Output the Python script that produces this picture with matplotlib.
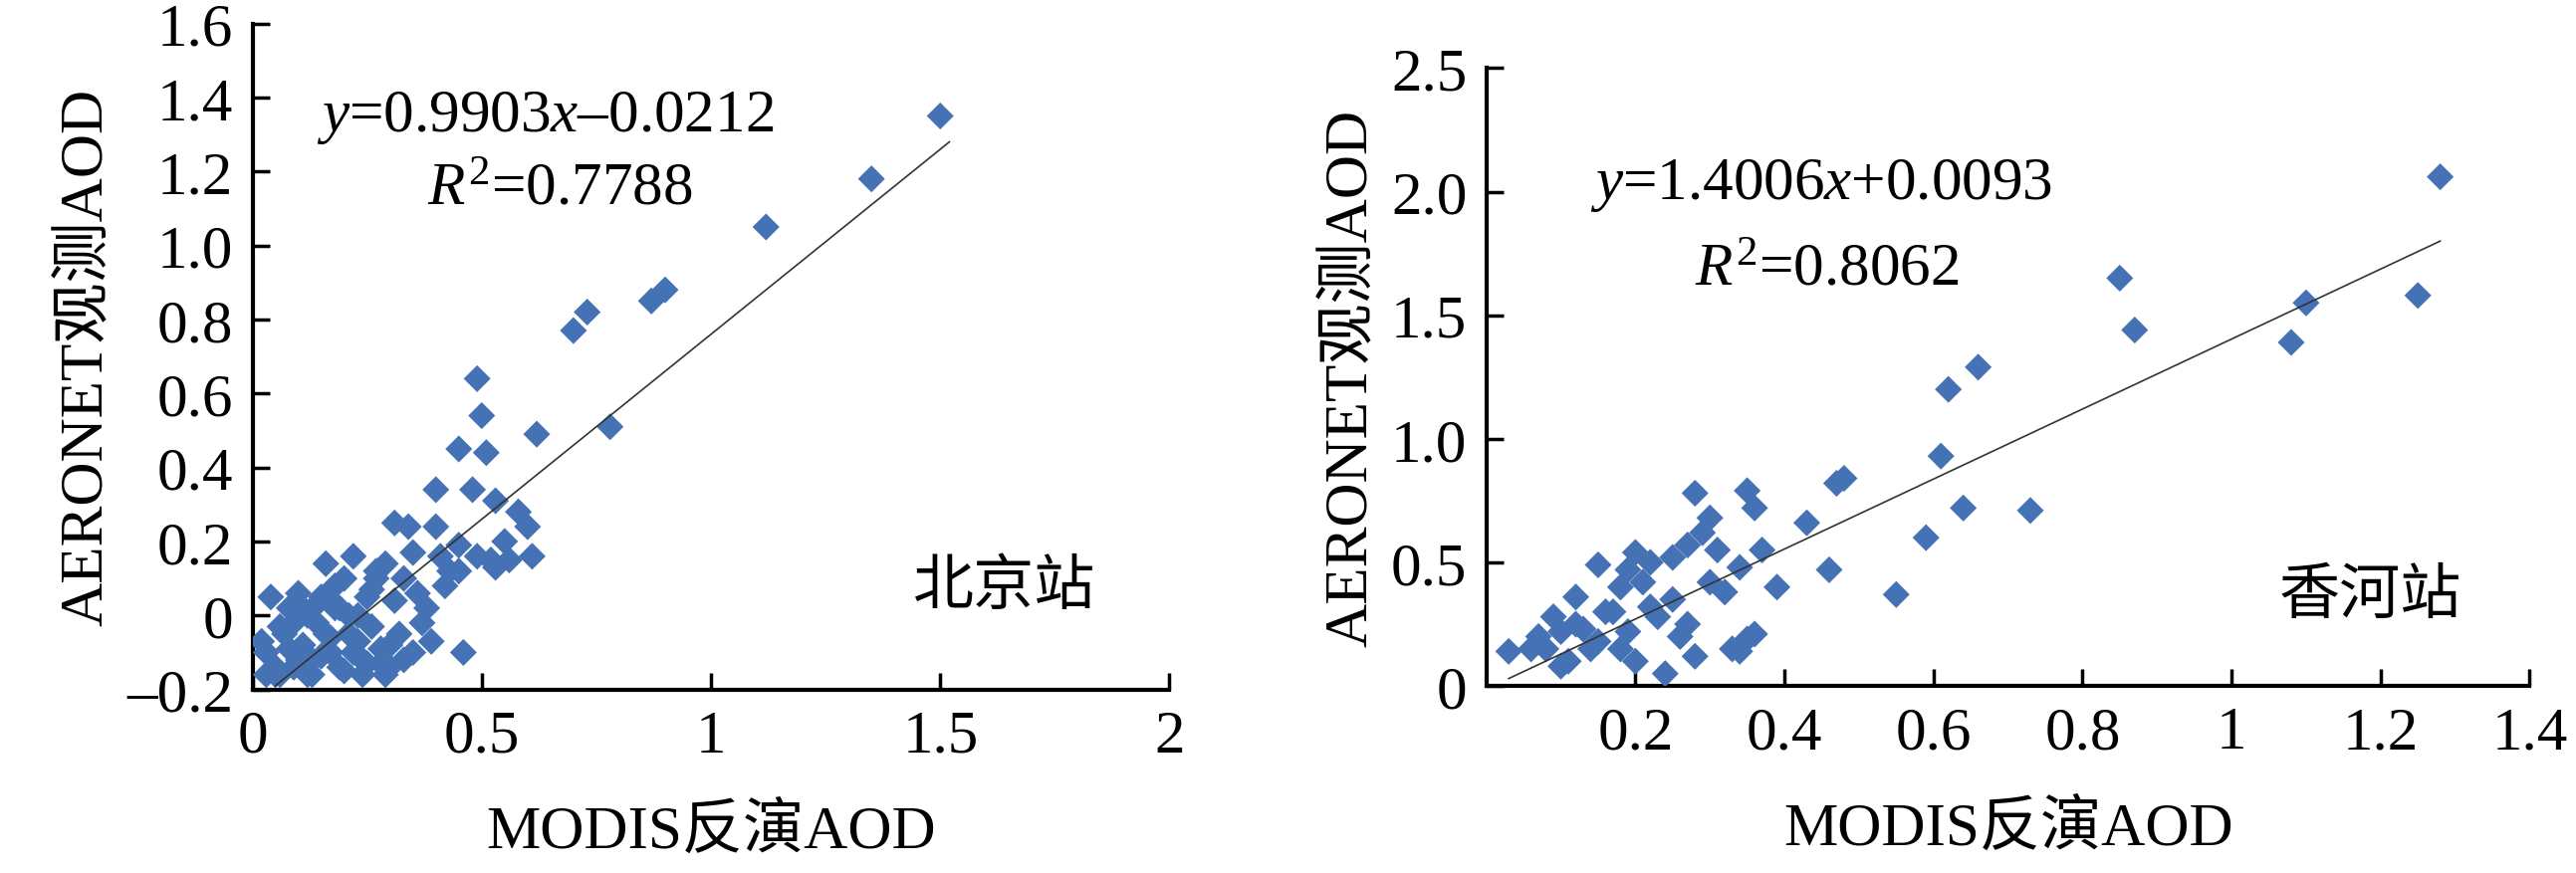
import matplotlib
matplotlib.use("Agg")
import matplotlib.pyplot as plt
import numpy as np

plt.rcParams['font.family'] = ['Liberation Serif', 'Noto Sans CJK SC', 'DejaVu Sans']
plt.rcParams['mathtext.fontset'] = 'custom'
plt.rcParams['mathtext.rm'] = 'Liberation Serif'
plt.rcParams['mathtext.it'] = 'Liberation Serif:italic'

bj_x = [1.50,1.35,1.12,0.73,0.70,0.90,0.87,0.78,0.62,0.49,0.50,0.45,0.51,0.40,0.48,0.53,0.58,0.60,0.61,
        0.31,0.34,0.40,0.45,0.49,0.53,0.56,0.41,0.45,0.33,0.29,0.36,0.42,0.38,0.27,0.22,0.25,0.20,0.18,0.15,
        0.12,0.10,0.08,0.06,0.04,0.03,0.02,0.05,0.07,0.09,0.11,0.13,0.14,0.16,0.17,0.19,0.21,0.23,0.24,0.26,
        0.28,0.30,0.32,0.35,0.37,0.39,0.43,0.18,0.20,0.22,0.24,0.26,0.28,0.30,0.15,0.12,0.10,0.08,0.06,0.25,
        0.27,0.29,0.31,0.33,0.21,0.19,0.17,0.14,0.11,0.09,0.05,0.03,0.46,0.52,0.55,0.35,0.23,0.16,0.13]
bj_y = [1.35,1.18,1.05,0.82,0.77,0.88,0.85,0.51,0.49,0.64,0.54,0.45,0.44,0.34,0.34,0.31,0.28,0.24,0.16,
        0.25,0.24,0.24,0.19,0.16,0.13,0.15,0.16,0.12,0.10,0.14,0.06,0.08,0.02,0.12,0.16,0.05,0.10,0.02,0.05,
        0.00,0.06,0.02,-0.03,0.05,-0.10,-0.07,-0.14,-0.05,-0.02,-0.08,-0.12,0.03,-0.05,-0.10,-0.14,0.00,-0.07,
        -0.12,-0.03,-0.09,-0.14,-0.05,-0.10,-0.02,-0.07,0.12,0.08,-0.15,-0.10,-0.16,0.07,-0.13,-0.08,-0.11,
        -0.16,-0.12,-0.09,-0.16,-0.13,0.10,-0.16,0.04,-0.12,-0.05,0.02,-0.06,-0.02,0.02,-0.14,-0.16,-0.16,
        -0.10,0.15,0.20,0.17,0.00,0.14,-0.16]
# trend line end points as drawn in the picture
bj_line_x = [0.05, 1.52]
bj_line_y = [-0.19, 1.28]
xh_x = [1.28,0.85,0.87,1.25,1.10,1.08,0.66,0.62,0.61,0.64,0.59,0.55,0.73,0.48,0.47,0.43,0.46,0.39,0.28,
        0.36,0.35,0.34,0.37,0.35,0.33,0.31,0.30,0.29,0.27,0.25,0.22,0.20,0.19,0.18,0.16,0.15,0.13,0.12,0.10,
        0.09,0.08,0.06,0.03,0.21,0.23,0.26,0.28,0.24,0.17,0.14,0.11,0.19,0.22,0.30,0.32,0.18,0.20,0.15,0.12,
        0.25,0.27,0.36,0.34,0.10,0.07]
xh_y = [2.06,1.65,1.44,1.58,1.55,1.39,1.29,1.20,0.93,0.72,0.60,0.37,0.71,0.84,0.82,0.66,0.47,0.40,0.78,
        0.72,0.79,0.48,0.55,0.19,0.15,0.55,0.68,0.62,0.57,0.52,0.50,0.54,0.47,0.40,0.30,0.49,0.23,0.36,0.22,
        0.28,0.15,0.15,0.14,0.42,0.28,0.20,0.12,0.05,0.30,0.15,0.10,0.22,0.32,0.42,0.38,0.15,0.10,0.18,0.25,
        0.35,0.25,0.21,0.14,0.08,0.20]
xh_line_x = [0.03, 1.28]
xh_line_y = [0.03, 1.80]

fig = plt.figure(figsize=(25.87, 8.78), dpi=100)
color = '#4472b4'
fs = 44

def setup(ax):
    for s in ['top', 'right']:
        ax.spines[s].set_visible(False)
    for s in ['left', 'bottom']:
        ax.spines[s].set_linewidth(3)
    ax.tick_params(direction='in', length=12, width=2.5, labelsize=fs, pad=14)
    ax.set_xlabel('MODIS反演AOD', fontsize=fs, labelpad=28)
    ax.set_ylabel('AERONET观测AOD', fontsize=fs, labelpad=8)

ax1 = fig.add_axes([0.098, 0.21, 0.356, 0.762])
ax1.scatter(bj_x, bj_y, marker='D', s=190, color=color, edgecolors='none', zorder=3)
ax1.plot(bj_line_x, bj_line_y, color='#333333', lw=1.2, zorder=4)
ax1.set_xlim(0, 2); ax1.set_ylim(-0.2, 1.6)
ax1.set_xticks([0, 0.5, 1, 1.5, 2]); ax1.set_xticklabels(['0', '0.5', '1', '1.5', '2'])
ax1.set_yticks(np.arange(-0.2, 1.61, 0.2))
ax1.set_yticklabels(['–0.2', '0', '0.2', '0.4', '0.6', '0.8', '1.0', '1.2', '1.4', '1.6'])
setup(ax1)
ax1.text(0.07, 0.84, r'$\mathit{y}$=0.9903$\mathit{x}$–0.0212', transform=ax1.transAxes, fontsize=fs)
ax1.text(0.19, 0.73, r'$\mathit{R}^2$=0.7788', transform=ax1.transAxes, fontsize=fs)
ax1.text(0.72, 0.13, '北京站', transform=ax1.transAxes, fontsize=fs, family='Noto Sans CJK SC')

ax2 = fig.add_axes([0.577, 0.214, 0.405, 0.707])
ax2.scatter(xh_x, xh_y, marker='D', s=190, color=color, edgecolors='none', zorder=3)
ax2.plot(xh_line_x, xh_line_y, color='#333333', lw=1.2, zorder=4)
ax2.set_xlim(0, 1.4); ax2.set_ylim(0, 2.5)
ax2.set_xticks([0.2, 0.4, 0.6, 0.8, 1.0, 1.2, 1.4]); ax2.set_xticklabels(['0.2', '0.4', '0.6', '0.8', '1', '1.2', '1.4'])
ax2.set_yticks([0, 0.5, 1.0, 1.5, 2.0, 2.5]); ax2.set_yticklabels(['0', '0.5', '1.0', '1.5', '2.0', '2.5'])
setup(ax2)
ax2.text(0.10, 0.79, r'$\mathit{y}$=1.4006$\mathit{x}$+0.0093', transform=ax2.transAxes, fontsize=fs)
ax2.text(0.20, 0.65, r'$\mathit{R}^2$=0.8062', transform=ax2.transAxes, fontsize=fs)
ax2.text(0.76, 0.12, '香河站', transform=ax2.transAxes, fontsize=fs, family='Noto Sans CJK SC')

fig.savefig('out.png', dpi=100)
